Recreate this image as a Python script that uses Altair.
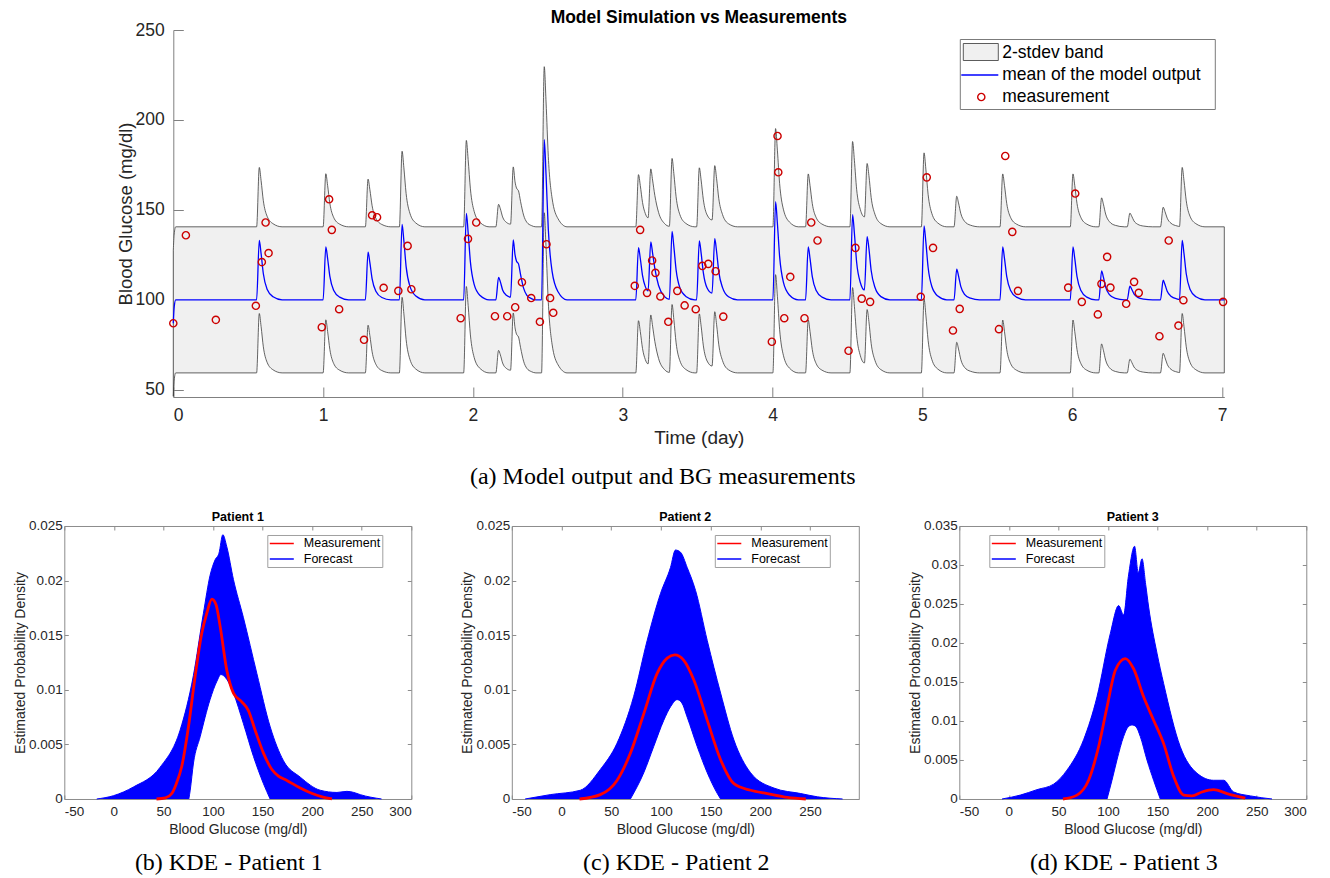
import altair as alt
import pandas as pd

FONT = "Liberation Sans"
SERIF = "Liberation Serif"
TXT = "#262626"
AXC = "#7f7f7f"

# ---------------- (a) Model output vs measurements ----------------
MEAN_T = [
    0.000, 0.006, 0.016,
    0.556, 0.574, 0.586, 0.601, 0.626, 0.666, 0.726,
    1.000, 1.018, 1.030, 1.045, 1.070, 1.110, 1.170,
    1.282, 1.300, 1.312, 1.327, 1.352, 1.392, 1.452,
    1.509, 1.527, 1.539, 1.554, 1.579, 1.619, 1.679,
    1.938, 1.956, 1.968, 1.983, 2.008, 2.048, 2.108,
    2.153, 2.171, 2.183, 2.198, 2.223,
    2.251, 2.269, 2.281, 2.291, 2.304, 2.318, 2.338, 2.360, 2.390, 2.420,
    2.458, 2.476, 2.488, 2.503, 2.528, 2.568, 2.628,
    3.087, 3.105, 3.117, 3.132, 3.150,
    3.169, 3.187, 3.199, 3.214, 3.239, 3.279,
    3.311, 3.329, 3.341, 3.356, 3.381, 3.421, 3.481,
    3.493, 3.511, 3.523, 3.538, 3.563,
    3.596, 3.614, 3.626, 3.641, 3.666, 3.706, 3.766,
    4.002, 4.020, 4.032, 4.047, 4.072, 4.112, 4.172,
    4.220, 4.238, 4.250, 4.265, 4.290, 4.330, 4.390,
    4.516, 4.534, 4.546, 4.561, 4.586,
    4.613, 4.631, 4.643, 4.658, 4.683, 4.723, 4.783,
    4.993, 5.011, 5.023, 5.038, 5.063, 5.103, 5.163,
    5.211, 5.229, 5.241, 5.256, 5.281, 5.321, 5.381,
    5.518, 5.536, 5.548, 5.563, 5.588, 5.628, 5.688,
    5.987, 6.005, 6.017, 6.032, 6.057, 6.097, 6.157,
    6.178, 6.196, 6.208, 6.223, 6.248, 6.288, 6.348,
    6.367, 6.385, 6.397, 6.412, 6.437, 6.477, 6.537,
    6.589, 6.607, 6.619, 6.634, 6.659, 6.699,
    6.716, 6.734, 6.746, 6.761, 6.786, 6.826, 6.886,
    7.015,
]
MEAN_BG = [
    87.0, 96.0, 100.0,
    100.0, 133.0, 125.7, 114.5, 105.9, 101.7, 100.0,
    100.0, 129.5, 123.0, 113.0, 105.3, 101.5, 100.0,
    100.0, 126.5, 120.7, 111.7, 104.8, 101.3, 100.0,
    100.0, 142.0, 132.8, 118.5, 107.6, 102.1, 100.0,
    100.0, 148.0, 137.4, 121.1, 108.6, 102.4, 100.0,
    100.0, 112.5, 110.0, 105.5, 102.5,
    101.5, 133.3, 125.0, 121.5, 120.0, 114.0, 106.5, 102.5, 100.7, 100.0,
    100.0, 189.0, 169.4, 139.2, 116.0, 104.5, 100.0,
    100.0, 129.0, 123.0, 113.5, 107.5,
    105.0, 132.2, 126.0, 117.5, 108.0, 101.8,
    100.3, 138.0, 129.6, 116.7, 106.8, 101.9, 100.0,
    100.0, 132.8, 126.0, 115.0, 106.6,
    103.8, 134.0, 127.0, 115.6, 106.8, 101.7, 100.0,
    100.0, 154.6, 142.6, 124.0, 109.8, 102.7, 100.0,
    100.0, 129.4, 122.9, 112.9, 105.3, 101.5, 100.0,
    100.0, 147.4, 137.0, 120.9, 109.5,
    105.5, 135.2, 128.5, 116.3, 107.0, 101.8, 100.0,
    100.0, 141.1, 132.1, 118.1, 107.4, 102.1, 100.0,
    100.0, 117.0, 113.3, 107.5, 103.1, 100.9, 100.0,
    100.0, 129.4, 122.9, 112.9, 105.3, 101.5, 100.0,
    100.0, 129.4, 122.9, 112.9, 105.3, 101.5, 100.0,
    100.0, 116.1, 112.6, 107.1, 102.9, 100.8, 100.0,
    100.0, 107.6, 105.9, 103.3, 101.4, 100.4, 100.0,
    100.0, 110.9, 108.5, 104.8, 102.0, 100.5,
    100.2, 133.0, 125.7, 114.5, 105.9, 101.7, 100.0,
    100.0,
]
TWO_SD = 40.6  # half-width of the 2-stdev band

MEAS_T = [0.000, 0.084, 0.284, 0.551, 0.591, 0.616, 0.636, 0.991, 1.040, 1.058,
          1.107, 1.273, 1.327, 1.360, 1.404, 1.502, 1.564, 1.589, 1.918, 1.967,
          2.022, 2.147, 2.229, 2.282, 2.327, 2.389, 2.447, 2.491, 2.515, 2.536,
          3.080, 3.116, 3.162, 3.196, 3.218, 3.251, 3.304, 3.364, 3.413, 3.487,
          3.531, 3.571, 3.620, 3.671, 3.995, 4.033, 4.038, 4.078, 4.118, 4.213,
          4.258, 4.300, 4.507, 4.553, 4.595, 4.651, 4.989, 5.029, 5.071, 5.204,
          5.249, 5.511, 5.553, 5.600, 5.638, 5.973, 6.020, 6.064, 6.171, 6.195,
          6.233, 6.255, 6.360, 6.413, 6.444, 6.582, 6.644, 6.709, 6.742, 7.007]
MEAS_BG = [87.0, 135.9, 88.9, 96.7, 121.0, 143.0, 126.0, 84.8, 155.9, 138.9,
           94.8, 77.8, 147.0, 145.9, 106.7, 105.0, 130.0, 105.9, 89.8, 133.9,
           143.0, 90.9, 90.9, 95.9, 109.8, 101.0, 87.8, 130.9, 101.0, 92.8,
           107.8, 138.9, 103.9, 121.9, 115.0, 101.9, 87.8, 105.0, 96.9, 94.8,
           118.9, 120.0, 115.9, 90.7, 76.7, 191.1, 170.9, 89.8, 112.8, 89.8,
           143.0, 133.0, 71.7, 128.9, 100.7, 98.9, 101.7, 168.1, 128.9, 83.0,
           95.0, 83.7, 180.0, 137.8, 105.0, 106.8, 159.1, 98.9, 91.9, 108.9,
           123.9, 106.8, 97.8, 110.0, 103.9, 79.8, 133.0, 85.7, 99.8, 98.9]

X_TICKS_A = [0, 1, 2, 3, 4, 5, 6, 7]
Y_TICKS_A = [50, 100, 150, 200, 250]
LEGEND_A = ["2-stdev band", "mean of the model output", "measurement"]

# ---------------- KDE panels ----------------
P1_UP_X = [-17.3, -0.5, 19.7, 46.6, 66.8, 80.2, 90.3, 97.1, 102.1, 106.0, 109.9, 113.9,
           120.6, 130.7, 144.2, 157.7, 171.1, 188.0, 208.2, 225.0, 235.0, 242.0, 248.5, 270.0]
P1_UP_D = [0, 0.0003, 0.0011, 0.0029, 0.0063, 0.0113, 0.0170, 0.0205, 0.0219, 0.0225, 0.0242, 0.0231,
           0.0201, 0.0166, 0.0115, 0.0066, 0.0035, 0.0020, 0.0008, 0.0006, 0.0007, 0.0006, 0.0004, 0]
P1_LOW_X = [75.6, 77.0, 80.3, 87.0, 97.0, 104.0, 108.0, 110.5, 115.0, 120.6, 130.7, 140.8, 150.9, 157.6]
P1_LOW_D = [0, 0.0008, 0.0033, 0.0057, 0.0091, 0.0108, 0.0114, 0.0113, 0.0108, 0.0097, 0.0069, 0.0039, 0.0014, 0]
P1_MEAS_X = [43.0, 52.0, 58.4, 63.0, 68.5, 75.2, 81.9, 88.7, 93.7, 98.8, 103.0, 107.2, 113.9,
             120.6, 129.0, 135.7, 142.5, 150.9, 159.4, 166.0, 174.5, 188.0, 200.0, 210.0, 220.0]
P1_MEAS_D = [0, 0.0001, 0.0005, 0.0014, 0.0030, 0.0066, 0.0112, 0.0152, 0.0170, 0.0183, 0.0178, 0.0158,
             0.0118, 0.0097, 0.0089, 0.0081, 0.0063, 0.0042, 0.0027, 0.0021, 0.0017, 0.0010, 0.0005, 0.0002, 0]

P2_UP_X = [-36.6, -11.4, 18.9, 39.0, 55.8, 72.6, 86.1, 99.5, 109.6, 114.6, 119.7, 126.4,
           134.8, 146.6, 160.0, 173.4, 190.2, 213.7, 240.6, 257.4, 282.7]
P2_UP_D = [0, 0.0004, 0.0008, 0.0027, 0.0051, 0.0094, 0.0145, 0.0188, 0.0212, 0.0228, 0.0226, 0.0212,
           0.0191, 0.0145, 0.0097, 0.0054, 0.0024, 0.0010, 0.0005, 0.0002, 0]
P2_LOW_X = [69.3, 82.7, 92.7, 102.8, 110.0, 116.3, 121.0, 126.4, 136.5, 146.6, 156.7, 160.0]
P2_LOW_D = [0, 0.0024, 0.0048, 0.0072, 0.0085, 0.0091, 0.0088, 0.0075, 0.0048, 0.0024, 0.0005, 0]
P2_MEAS_X = [18.1, 39.0, 55.8, 69.3, 82.7, 96.2, 106.3, 113.9, 123.0, 133.1, 146.6, 160.0,
             173.4, 190.2, 207.0, 227.2, 245.7]
P2_MEAS_D = [0, 0.0004, 0.0017, 0.0042, 0.0078, 0.0115, 0.0129, 0.0132, 0.0127, 0.0109, 0.0072, 0.0036,
             0.0014, 0.0008, 0.0005, 0.00015, 0]

P3_UP_X = [-6.9, 11.5, 28.4, 45.1, 58.6, 75.4, 88.9, 102.3, 110.7, 115.7, 120.5, 126.8, 130.5,
           134.3, 138.0, 141.0, 149.4, 156.1, 172.9, 189.8, 206.5, 216.7, 226.7, 243.5, 265.4]
P3_UP_D = [0, 0.0005, 0.0012, 0.0019, 0.0037, 0.0076, 0.0131, 0.0212, 0.0248, 0.0236, 0.0285, 0.0324, 0.0290,
           0.0308, 0.0275, 0.0246, 0.0187, 0.0148, 0.0067, 0.0033, 0.0024, 0.0024, 0.0009, 0.0004, 0]
P3_LOW_X = [99.0, 104.0, 109.0, 115.7, 120.0, 124.2, 128.0, 132.6, 139.3, 146.0, 152.7]
P3_LOW_D = [0, 0.0024, 0.0050, 0.0080, 0.0092, 0.0095, 0.0093, 0.0080, 0.0050, 0.0024, 0]
P3_MEAS_X = [54.6, 68.7, 80.4, 90.5, 99.0, 107.4, 117.4, 125.8, 135.9, 146.0, 156.1, 166.2,
             176.3, 184.7, 194.8, 206.5, 220.0, 238.5]
P3_MEAS_D = [0, 0.0005, 0.0024, 0.0067, 0.0118, 0.0165, 0.0180, 0.0167, 0.0131, 0.0101, 0.0071, 0.0029,
             0.0005, 0.0004, 0.0009, 0.0012, 0.0007, 0.0001]

KDE_X_TICKS = [-50, 0, 50, 100, 150, 200, 250, 300]
KDE_X_TICKS_2 = [-50, 0, 50, 100, 150, 200, 250]
KDE_Y_TICKS_12 = [0, 0.005, 0.01, 0.015, 0.02, 0.025]
KDE_Y_TICKS_3 = [0, 0.005, 0.01, 0.015, 0.02, 0.025, 0.03, 0.035]
SERIES = ["Measurement", "Forecast"]

# ---------------- top chart ----------------
W_A, H_A = 1051, 367
xs_a = alt.Scale(domain=[0, 7.015], nice=False, zero=False)
ys_a = alt.Scale(domain=[46, 250], nice=False, zero=False)

df_mean = pd.DataFrame({"t": MEAN_T, "bg": MEAN_BG})
df_mean["lo"] = df_mean["bg"] - TWO_SD
df_mean["hi"] = df_mean["bg"] + TWO_SD
df_meas = pd.DataFrame({"t": MEAS_T, "bg": MEAS_BG})

main_x_a = alt.Axis(values=X_TICKS_A, title="Time (day)", ticks=False, grid=False,
                    domainColor=AXC, labelFont=FONT, titleFont=FONT, labelFontSize=17.5,
                    titleFontSize=19, labelColor=TXT, titleColor=TXT, titleFontWeight="normal",
                    labelPadding=9, titlePadding=5)
main_y_a = alt.Axis(values=Y_TICKS_A, title="Blood Glucose (mg/dl)", ticks=False, grid=False,
                    domainColor=AXC, labelFont=FONT, titleFont=FONT, labelFontSize=17.5,
                    titleFontSize=18.5, labelColor=TXT, titleColor=TXT, titleFontWeight="normal",
                    labelPadding=9, titlePadding=0)
tick_x_a = alt.Axis(values=X_TICKS_A, orient="bottom", offset=-10, tickSize=10, labels=False,
                    domain=False, grid=False, title=None, tickColor=AXC)
tick_y_a = alt.Axis(values=Y_TICKS_A, orient="left", offset=-10, tickSize=10, labels=False,
                    domain=False, grid=False, title=None, tickColor=AXC)

band = alt.Chart(df_mean).mark_area(
    interpolate="monotone", fill="#f0f0f0", stroke="#3c3c3c", strokeWidth=0.8
).encode(
    x=alt.X("t:Q", scale=xs_a, axis=main_x_a),
    y=alt.Y("lo:Q", scale=ys_a, axis=main_y_a),
    y2="hi:Q",
)
mean_line = alt.Chart(df_mean).mark_line(
    interpolate="monotone", color="#0000ff", strokeWidth=1.3
).encode(
    x=alt.X("t:Q", scale=xs_a, axis=tick_x_a),
    y=alt.Y("bg:Q", scale=ys_a, axis=tick_y_a),
)
meas_pts = alt.Chart(df_meas).mark_point(
    shape="circle", filled=False, color="#cc0000", size=52, strokeWidth=1.4, opacity=1
).encode(
    x=alt.X("t:Q", scale=xs_a, axis=None),
    y=alt.Y("bg:Q", scale=ys_a, axis=None),
)

one = pd.DataFrame({"k": [0]})
leg_box = alt.Chart(one).mark_rect(fill="white", stroke="#7a7a7a", strokeWidth=1).encode(
    x=alt.value(787), x2=alt.value(1042), y=alt.value(9.5), y2=alt.value(79.5))
leg_sw = alt.Chart(one).mark_rect(fill="#f0f0f0", stroke="#333333", strokeWidth=0.8).encode(
    x=alt.value(790), x2=alt.value(825), y=alt.value(13.5), y2=alt.value(30.5))
leg_ln = alt.Chart(one).mark_rule(color="#0000ff", strokeWidth=1.3).encode(
    x=alt.value(788), x2=alt.value(825), y=alt.value(45))
leg_pt = alt.Chart(one).mark_point(shape="circle", filled=False, color="#cc0000", size=52,
                                   strokeWidth=1.4, opacity=1).encode(x=alt.value(808), y=alt.value(67))
leg_txt = alt.Chart(pd.DataFrame({"lab": LEGEND_A, "yy": [22.5, 45, 67.3]})).mark_text(
    align="left", baseline="middle", font=FONT, fontSize=17.5, color="black"
).encode(text="lab:N", x=alt.value(829), y=alt.Y("yy:Q", scale=None))
cap_a = alt.Chart(pd.DataFrame({"c": ["(a) Model output and BG measurements"]})).mark_text(
    font=SERIF, fontSize=24, color="black", align="center", baseline="middle"
).encode(text="c:N", x=alt.value(489.5), y=alt.value(447))

top = alt.layer(band, mean_line, meas_pts, leg_box, leg_sw, leg_ln, leg_pt, leg_txt, cap_a).resolve_axis(
    x="independent", y="independent"
).properties(
    width=W_A, height=H_A,
    title=alt.TitleParams("Model Simulation vs Measurements", font=FONT, fontSize=17.5,
                          fontWeight="bold", color="black", anchor="middle", offset=-5),
)

spacer = alt.Chart(one).mark_point(opacity=0).properties(width=108.7, height=H_A)


# ---------------- KDE panel builder ----------------
def kde_panel(title, up_x, up_d, low_x, low_d, meas_x, meas_d, x_dom, x_ticks, y_dom, y_ticks,
              legend_x, caption):
    xs = alt.Scale(domain=x_dom, nice=False, zero=False)
    ys = alt.Scale(domain=y_dom, nice=False)
    df_up = pd.DataFrame({"bg": up_x, "dens": up_d, "curve": "upper", "series": "Forecast"})
    df_low = pd.DataFrame({"bg": low_x, "dens": low_d, "curve": "lower", "series": "Forecast"})
    df_f = pd.concat([df_up, df_low], ignore_index=True)
    df_m = pd.DataFrame({"bg": meas_x, "dens": meas_d, "series": "Measurement"})

    lab_expr = "(datum.value < 0 ? '-' : '') + format(abs(datum.value), '~g')"
    main_x = alt.Axis(values=x_ticks, title="Blood Glucose (mg/dl)", ticks=False, domain=False,
                      grid=False, labelExpr=lab_expr, labelFont=FONT, titleFont=FONT,
                      labelFontSize=13.5, titleFontSize=14, labelColor=TXT, titleColor=TXT,
                      titleFontWeight="normal", labelPadding=6, titlePadding=4)
    main_y = alt.Axis(values=y_ticks, title="Estimated Probability Density", ticks=False,
                      domain=False, grid=False, format="~g", labelFont=FONT, titleFont=FONT,
                      labelFontSize=13.5, titleFontSize=14, labelColor=TXT, titleColor=TXT,
                      titleFontWeight="normal", labelPadding=2, titlePadding=1.5)
    tb = alt.Axis(values=x_ticks, orient="bottom", offset=-4, tickSize=4, labels=False,
                  domain=False, grid=False, title=None, tickColor="#8c8c8c")
    tl = alt.Axis(values=y_ticks, orient="left", offset=-4, tickSize=4, labels=False,
                  domain=False, grid=False, title=None, tickColor="#8c8c8c")
    tt = alt.Axis(values=x_ticks, orient="top", offset=-4, tickSize=4, labels=False,
                  domain=False, grid=False, title=None, tickColor="#8c8c8c")
    tr = alt.Axis(values=y_ticks, orient="right", offset=-4, tickSize=4, labels=False,
                  domain=False, grid=False, title=None, tickColor="#8c8c8c")

    color = alt.Color(
        "series:N",
        scale=alt.Scale(domain=SERIES, range=["#ff0000", "#0000ff"]),
        legend=alt.Legend(orient="none", legendX=legend_x, legendY=9, title=None,
                          symbolType="M-2,0H2", symbolSize=144, symbolStrokeWidth=1.5,
                          symbolOffset=6, labelOffset=15,
                          labelFont=FONT, labelFontSize=12.5, labelColor="black",
                          padding=1.5, rowPadding=1.5,
                          strokeColor="#a0a0a0", fillColor="white"),
    )

    fill_up = alt.Chart(df_up).mark_area(interpolate="monotone", color="#0000ff").encode(
        x=alt.X("bg:Q", scale=xs, axis=main_x),
        y=alt.Y("dens:Q", scale=ys, axis=main_y),
    )
    hole = alt.Chart(df_low).mark_area(interpolate="monotone", color="white").encode(
        x=alt.X("bg:Q", scale=xs, axis=tb),
        y=alt.Y("dens:Q", scale=ys, axis=tl),
    )
    lines = alt.Chart(df_f).mark_line(interpolate="monotone", strokeWidth=1).encode(
        x=alt.X("bg:Q", scale=xs, axis=tt),
        y=alt.Y("dens:Q", scale=ys, axis=tr),
        color=color,
        detail="curve:N",
    )
    red = alt.Chart(df_m).mark_line(interpolate="monotone", strokeWidth=2.8).encode(
        x=alt.X("bg:Q", scale=xs, axis=None),
        y=alt.Y("dens:Q", scale=ys, axis=None),
        color=color,
    )
    cap = alt.Chart(pd.DataFrame({"c": [caption]})).mark_text(
        font=SERIF, fontSize=24, color="black", align="center", baseline="middle"
    ).encode(text="c:N", x=alt.value(164.5), y=alt.value(337.3))

    return alt.layer(fill_up, hole, lines, red, cap).resolve_axis(
        x="independent", y="independent"
    ).properties(
        width=347, height=273,
        title=alt.TitleParams(title, font=FONT, fontSize=12.5, fontWeight="bold",
                              color="black", anchor="middle", offset=-5),
        view=alt.ViewBackground(stroke="#8c8c8c", strokeWidth=1),
    )


p1 = kde_panel("Patient 1", P1_UP_X, P1_UP_D, P1_LOW_X, P1_LOW_D, P1_MEAS_X, P1_MEAS_D,
               [-50, 300], KDE_X_TICKS, [0, 0.025], KDE_Y_TICKS_12, 203, "(b) KDE - Patient 1")
p2 = kde_panel("Patient 2", P2_UP_X, P2_UP_D, P2_LOW_X, P2_LOW_D, P2_MEAS_X, P2_MEAS_D,
               [-50, 299], KDE_X_TICKS_2, [0, 0.025], KDE_Y_TICKS_12, 203, "(c) KDE - Patient 2")
p3 = kde_panel("Patient 3", P3_UP_X, P3_UP_D, P3_LOW_X, P3_LOW_D, P3_MEAS_X, P3_MEAS_D,
               [-50, 300], KDE_X_TICKS, [0, 0.035], KDE_Y_TICKS_3, 30, "(d) KDE - Patient 3")

row_top = alt.hconcat(spacer, top, spacing=0, bounds="flush")
row_bot = alt.hconcat(p1, p2, p3, spacing=100.5, bounds="flush").resolve_scale(
    color="independent", x="independent", y="independent"
).resolve_legend(color="independent")

chart = alt.vconcat(row_top, row_bot, spacing=21).properties(
    padding={"left": 4.3, "top": 0, "right": 5, "bottom": 0}
).configure_view(stroke="transparent")

chart.save("out.html", embed_options={"renderer": "svg", "actions": False})
